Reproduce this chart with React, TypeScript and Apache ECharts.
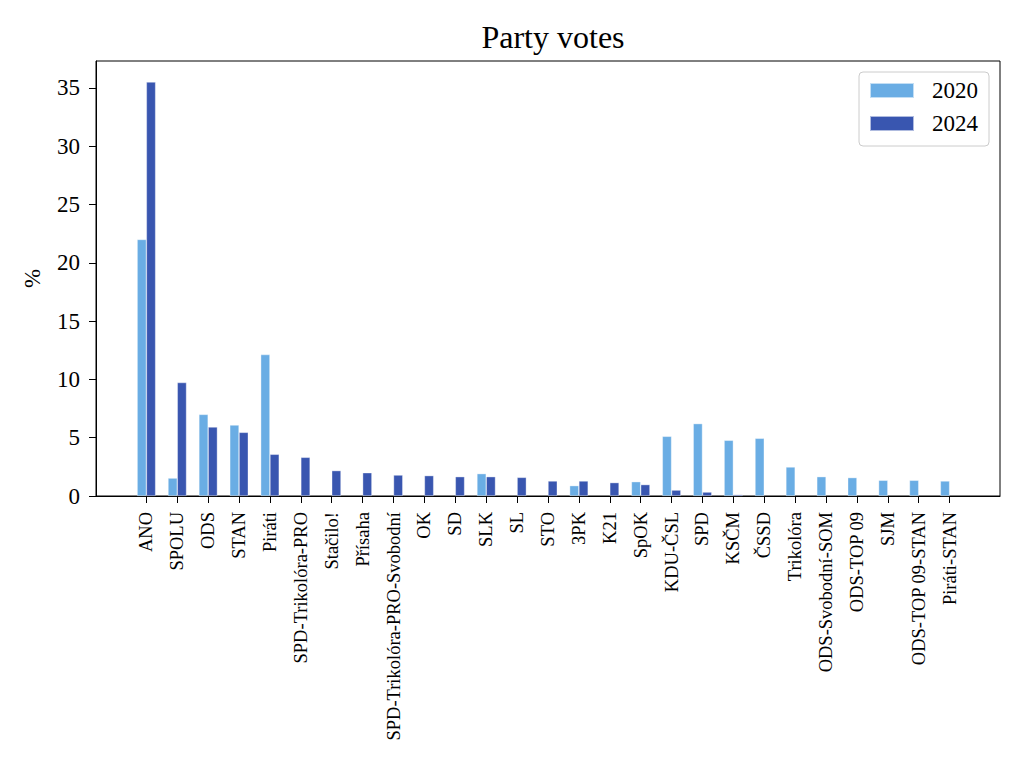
import React, { useEffect, useRef } from "react";
import * as echarts from "echarts";

const parties = [
  "ANO", "SPOLU", "ODS", "STAN", "Piráti", "SPD-Trikolóra-PRO", "Stačilo!", "Přísaha",
  "SPD-Trikolóra-PRO-Svobodní", "OK", "SD", "SLK", "SL", "STO", "3PK", "K21", "SpOK",
  "KDU-ČSL", "SPD", "KSČM", "ČSSD", "Trikolóra", "ODS-Svobodní-SOM", "ODS-TOP 09", "SJM",
  "ODS-TOP 09-STAN", "Piráti-STAN",
];

const votes2020: (number | null)[] = [
  22.0, 1.54, 7.0, 6.09, 12.13, null, null, null,
  null, null, null, 1.92, null, null, 0.89, null, 1.23,
  5.12, 6.21, 4.78, 4.95, 2.49, 1.66, 1.58, 1.35,
  1.35, 1.29,
];

const votes2024: (number | null)[] = [
  35.5, 9.73, 5.92, 5.46, 3.58, 3.32, 2.18, 2.0,
  1.8, 1.75, 1.66, 1.66, 1.6, 1.29, 1.29, 1.15, 0.98,
  0.51, 0.34, 0.12, null, null, null, null, null,
  null, null,
];

const yTicks = [0, 5, 10, 15, 20, 25, 30, 35];
const seriesNames = ["2020", "2024"];

const FONT = "Liberation Serif";
const BAR_OFFSET = 0.15;

export default function App() {
  const ref = useRef<HTMLDivElement>(null);

  useEffect(() => {
    if (!ref.current) return;
    const chart = echarts.init(ref.current, null, { renderer: "svg" });
    const idx = parties.map((_, i) => i);
    const toData = (vals: (number | null)[], off: number) =>
      vals.map((v, i) => (v == null ? [i + off, null] : [i + off, v]));

    chart.setOption({
      animation: false,
      backgroundColor: "#ffffff",
      textStyle: { fontFamily: FONT, color: "#000" },
      title: {
        text: "Party votes",
        left: 548,
        top: 16,
        textAlign: "center",
        textStyle: { fontFamily: FONT, fontSize: 32, fontWeight: "normal", color: "#000" },
      },
      legend: {
        orient: "vertical",
        right: 35,
        top: 72,
        padding: [7, 11, 11, 10],
        itemWidth: 44,
        itemHeight: 15,
        itemGap: 10,
        borderColor: "#cccccc",
        borderWidth: 1,
        borderRadius: 4,
        backgroundColor: "#ffffff",
        icon: "rect",
        data: seriesNames,
        textStyle: { fontFamily: FONT, fontSize: 23, color: "#000", padding: [0, 0, 0, 13] },
      },
      grid: {
        left: 96,
        right: 24,
        top: 61,
        bottom: 272,
        show: true,
        borderColor: "#000",
        borderWidth: 1,
        containLabel: false,
        outerBoundsMode: "none",
      },
      xAxis: {
        type: "value",
        min: -1.63,
        max: 27.63,
        splitLine: { show: false },
        axisLine: { show: true, onZero: false, lineStyle: { color: "#000", width: 1 } },
        axisTick: {
          show: true,
          inside: false,
          length: 7,
          customValues: idx,
          lineStyle: { color: "#000", width: 1 },
        },
        axisLabel: {
          show: true,
          customValues: idx,
          rotate: 90,
          margin: 16,
          fontFamily: FONT,
          fontSize: 18.5,
          color: "#000",
          formatter: (v: number) => parties[Math.round(v)] ?? "",
        },
      },
      yAxis: {
        type: "value",
        min: 0,
        max: 37.3,
        name: "%",
        nameLocation: "middle",
        nameRotate: 90,
        nameGap: 52,
        nameTextStyle: { fontFamily: FONT, fontSize: 23, color: "#000" },
        splitLine: { show: false },
        axisLine: { show: true, onZero: false, lineStyle: { color: "#000", width: 1 } },
        axisTick: {
          show: true,
          inside: false,
          length: 7,
          customValues: yTicks,
          lineStyle: { color: "#000", width: 1 },
        },
        axisLabel: {
          show: true,
          customValues: yTicks,
          margin: 16,
          fontFamily: FONT,
          fontSize: 23,
          color: "#000",
        },
      },
      series: [
        {
          name: seriesNames[0],
          type: "bar",
          data: toData(votes2020, -BAR_OFFSET),
          barWidth: 9.3,
          barGap: "-100%",
          itemStyle: { color: "#6aade4", borderColor: "rgba(255,255,255,0.6)", borderWidth: 0.6 },
        },
        {
          name: seriesNames[1],
          type: "bar",
          data: toData(votes2024, BAR_OFFSET),
          barWidth: 9.3,
          barGap: "-100%",
          itemStyle: { color: "#3956b0", borderColor: "rgba(255,255,255,0.6)", borderWidth: 0.6 },
        },
      ],
    });

    return () => chart.dispose();
  }, []);

  return <div ref={ref} style={{ width: 1024, height: 768, position: "absolute", left: 0, top: 0 }} />;
}
